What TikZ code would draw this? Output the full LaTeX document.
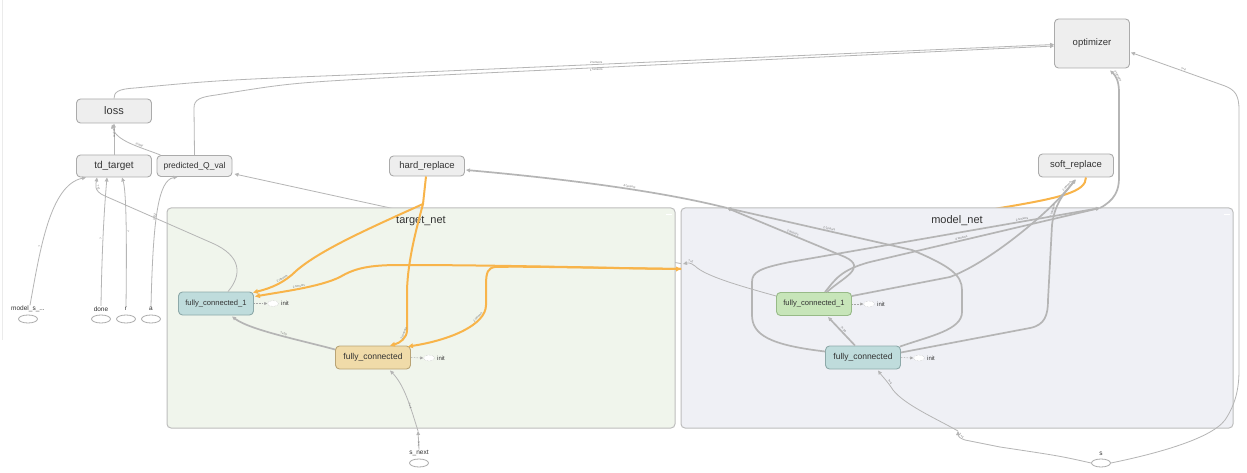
\documentclass[tikz,border=0pt]{standalone}
\usepackage{fontspec}
\setmainfont{Liberation Sans}
\usetikzlibrary{arrows.meta,shapes.geometric,calc}
\definecolor{edgec}{HTML}{B5B5B5}
\definecolor{opfill}{HTML}{EEEEEE}
\definecolor{opline}{HTML}{ABABAB}
\definecolor{reforange}{HTML}{F8B44A}
\definecolor{tnfill}{HTML}{F0F5EC}
\definecolor{mnfill}{HTML}{EFF0F5}
\definecolor{clline}{HTML}{BDBDBD}
\definecolor{tealfill}{HTML}{BFDCDC}
\definecolor{tealline}{HTML}{8DA9A9}
\definecolor{tanfill}{HTML}{F0DBA9}
\definecolor{tanline}{HTML}{B9A475}
\definecolor{greenfill}{HTML}{C7E5B9}
\definecolor{greenline}{HTML}{97BA87}
\definecolor{txt}{HTML}{333333}
\tikzset{
  opnode/.style={draw=opline, fill=opfill, rounded corners=4pt, line width=0.9pt,
    minimum width=75pt, minimum height=23pt, inner sep=0pt, text=txt},
  fcnode/.style={rounded corners=4pt, line width=0.9pt, minimum width=75pt,
    minimum height=23pt, inner sep=0pt, text=txt},
  cluster/.style={draw=clline, rounded corners=4pt, line width=1pt, inner sep=0pt},
  phnode/.style={ellipse, draw=opline, fill=white, line width=0.8pt,
    minimum width=19pt, minimum height=8pt, inner sep=0pt},
  phlabel/.style={font=\fontsize{6.5}{7}\selectfont, text=txt, inner sep=0.5pt},
  initnode/.style={ellipse, draw=black!22, densely dotted, fill=white,
    minimum width=11pt, minimum height=6pt, inner sep=0pt, line width=0.5pt},
  inittext/.style={font=\fontsize{6}{7}\selectfont, text=txt, inner sep=0pt, anchor=west},
  tip/.style={-{Triangle[length=4pt,width=3.6pt]}},
  thin edge/.style={draw=edgec, line width=0.8pt, tip},
  thick edge/.style={draw=edgec, line width=1.7pt, tip},
  refedge/.style={draw=reforange, line width=2pt, -{Triangle[length=5pt,width=4.6pt]}},
  refline/.style={draw=reforange, line width=2pt},
  elabel/.style={font=\fontsize{3}{3}\selectfont, text=black!55, sloped, inner sep=0.6pt},
  initedge/.style={draw=black!35, densely dotted, line width=0.6pt,
    -{Triangle[length=3pt,width=3pt]}},
  clustertitle/.style={font=\fontsize{11}{13}\selectfont, text=txt, inner sep=0pt},
}
\begin{document}
\begin{tikzpicture}[x=1pt,y=-1pt]
\fill[white] (0,0) rectangle (1247,473);
\useasboundingbox (0,0) rectangle (1247,473);
\draw[black!8, line width=1pt] (2.5,0) -- (2.5,340);

% ---------- top-level operations ----------
\node[opnode, minimum height=49pt, font=\fontsize{9.5}{11}\selectfont] (opt) at (1092,43.5) {optimizer};
\node[opnode, minimum height=24pt, font=\fontsize{11}{13}\selectfont] (loss) at (114,111) {loss};
\node[opnode, minimum height=22pt, font=\fontsize{10}{12}\selectfont] (tdt) at (114,166) {td\_target};
\node[opnode, minimum height=21pt, font=\fontsize{8.5}{10}\selectfont] (pq) at (194.5,166) {predicted\_Q\_val};
\node[opnode, minimum height=20pt, font=\fontsize{9.5}{11}\selectfont] (hr) at (427,166) {hard\_replace};
\node[opnode, minimum height=23pt, font=\fontsize{9.5}{11}\selectfont] (sr) at (1076,165.5) {soft\_replace};

% ---------- placeholders ----------
\node[phnode] (msph) at (28,319) {};
\node[phlabel] (mslab) at (28,309) {model\_s\_...};
\node[phnode] (doneph) at (101,319) {};
\node[phlabel] (donelab) at (101,309) {done};
\node[phnode] (rph) at (126,319) {};
\node[phlabel] (rlab) at (126,309) {r};
\node[phnode] (aph) at (151,319) {};
\node[phlabel] (alab) at (151,309) {a};
\node[phnode] (snph) at (419,463) {};
\node[phlabel] (snlab) at (419,453) {s\_next};
\node[phnode] (sph) at (1101,463) {};
\node[phlabel] (slab) at (1101,454) {s};

% ---------- edges running behind the clusters ----------
\coordinate (mpq) at (683,264);
\draw[thin edge] (mpq) -- (395,209) -- ($(pq.south east)+(2,-3)$);
\draw[refline] ($(sr.south)+(10,0)$) .. controls (1086,192) and (1060,198) .. (1000,208) -- (690,269);

% ---------- clusters ----------
\node[cluster, fill=tnfill, minimum width=508pt, minimum height=220pt] (tnet) at (421,318) {};
\node[cluster, fill=mnfill, minimum width=552pt, minimum height=220pt] (mnet) at (957,318) {};
\node[clustertitle] (tnettitle) at (421,221) {target\_net};
\node[clustertitle] (mnettitle) at (957,221) {model\_net};
\draw[white, line width=0.9pt] ($(tnet.north east)+(-10,7)$) -- ($(tnet.north east)+(-4,7)$);
\draw[white, line width=0.9pt] ($(mnet.north east)+(-10,7)$) -- ($(mnet.north east)+(-4,7)$);

% ---------- nodes inside the clusters ----------
\node[fcnode, draw=tealline, fill=tealfill, font=\fontsize{7.6}{9}\selectfont] (tfc1) at (216,303.5) {fully\_connected\_1};
\node[fcnode, draw=tanline, fill=tanfill, font=\fontsize{8.5}{10}\selectfont] (tfc) at (373,357.5) {fully\_connected};
\node[fcnode, draw=greenline, fill=greenfill, font=\fontsize{7.6}{9}\selectfont] (mfc1) at (814,304) {fully\_connected\_1};
\node[fcnode, draw=tealline, fill=tealfill, font=\fontsize{8.5}{10}\selectfont] (mfc) at (863,357.5) {fully\_connected};

% init companions
\node[initnode] (tfc1i) at (273,303.5) {};
\node[inittext] (tfc1it) at (281,303.5) {init};
\node[initnode] (tfci) at (429,358) {};
\node[inittext] (tfcit) at (437,358) {init};
\node[initnode] (mfc1i) at (869,304) {};
\node[inittext] (mfc1it) at (877,304) {init};
\node[initnode] (mfci) at (919,358) {};
\node[inittext] (mfcit) at (927,358) {init};
\draw[initedge] (tfc1.east) -- (tfc1i.west);
\draw[initedge] (tfc.east) -- (tfci.west);
\draw[initedge] (mfc1.east) -- (mfc1i.west);
\draw[initedge] (mfc.east) -- (mfci.west);

% ---------- loss / optimizer ----------
\draw[thin edge] (loss.north) .. controls (114,92) and (118,89) .. (135,88)
  .. controls (220,80) .. (400,73) -- ($(opt.west)+(0,1)$)
  node[elabel, pos=0.3, above] {2 tensors};
\draw[thin edge] (pq.north) -- (194,108) .. controls (194,99) and (201,97) .. (216,95)
  .. controls (290,83) .. (400,77) -- ($(opt.west)+(0,2.5)$)
  node[elabel, pos=0.3, below] {1 tensors};
\draw[thin edge] (tdt.north) -- (loss.south) node[elabel, midway, right] {scalar};
\draw[thin edge] ($(pq.north west)+(4,0)$) .. controls (140,147) and (116,141) .. ($(loss.south)+(-2,1)$)
  node[elabel, pos=0.35, above] {scalar};

% ---------- inputs of td_target and predicted_Q_val ----------
\draw[thin edge] ($(mslab.north)+(2,0)$) .. controls (40,250) and (50,185) .. ($(tdt.south)+(-28,0)$)
  node[elabel, pos=0.35, above] {?};
\draw[thin edge] (donelab.north) .. controls (102,240) and (105,200) .. ($(tdt.south)+(-7,0)$)
  node[elabel, pos=0.4, above] {?};
\draw[thin edge] (rlab.north) .. controls (127,230) and (126,190) .. ($(tdt.south)+(8,0)$)
  node[elabel, pos=0.4, above] {?};
\draw[thin edge] (alab.north) .. controls (153,220) and (158,180) .. ($(pq.south)+(-17,0)$)
  node[elabel, pos=0.45, above] {int32};
\draw[thin edge] ($(tfc1.north)+(12,0)$) .. controls (242,275) and (242,256) .. (212,243)
  -- (105,196) .. controls (93,191) and (96,184) .. ($(tdt.south)+(-17,0)$)
  node[elabel, pos=0.45, above] {?×2};

% model fc_1 towards predicted_Q_val
\draw[thin edge] ($(mfc1.west)+(0,-8)$) .. controls (740,286) and (705,276) .. (695,266)
  .. controls (690,262) and (687,263) .. (mpq)
  node[elabel, pos=0.35, above] {?×2};

% ---------- hard_replace ----------
\coordinate (hrin) at (727,208);
\draw[thick edge] (hrin) .. controls (680,196) and (600,182) .. ($(hr.east)+(1,4)$)
  node[elabel, pos=0.5, above] {4 tensors};
\draw[thick edge] ($(mfc1.north)+(13,0)$) .. controls (842,278) and (868,268) .. (845,257)
  -- (hrin) node[elabel, pos=0.45, above] {2 tensors};
\draw[thick edge] ($(mfc.north east)+(-1,1)$) .. controls (930,336) and (962,330) .. (962,312)
  -- (962,290) .. controls (962,275) and (950,266) .. (912,250) -- (hrin)
  node[elabel, pos=0.45, above] {2 tensors};

% ---------- soft_replace ----------
\draw[thick edge] ($(mfc1.east)+(0,-8)$) -- (950,277) .. controls (990,262) and (1045,215) .. (1065,192)
  -- ($(sr.south)+(0,2)$) node[elabel, pos=0.35, above] {2 tensors};
\draw[thick edge] ($(mfc.east)+(0,-5)$) -- (1030,328) .. controls (1045,325) and (1048,315) .. (1048,300)
  -- (1052,225) .. controls (1055,200) and (1068,190) .. ($(sr.south)+(-1,2)$)
  node[elabel, pos=0.2, above] {2 tensors};

% ---------- optimizer inputs ----------
\coordinate (optin) at (1100,208);
\draw[thick edge] (optin) .. controls (1115,200) and (1119,190) .. (1119,178) -- (1119,92)
  .. controls (1119,80) and (1115,75) .. ($(opt.south)+(18,2)$)
  node[elabel, pos=0.55, above] {4 tensors};
\draw[thick edge] ($(mfc.west)+(0,-6)$) .. controls (770,345) and (752,335) .. (752,315)
  -- (752,282) .. controls (752,272) and (760,268) .. (790,262) -- (optin)
  node[elabel, pos=0.75, above] {2 tensors};
\draw[thick edge] ($(mfc1.north)+(11,0)$) .. controls (835,280) and (840,270) .. (870,262) -- (optin)
  node[elabel, pos=0.4, above] {4 tensors};

% ---------- state inputs ----------
\coordinate (sin) at (958,431);
\draw[thin edge] (sph.west) .. controls (1060,456) .. (1000,447) -- (965,440)
  .. controls (959,438) and (958,436) .. (sin) node[elabel, pos=0.4, above] {?×4};
\draw[thin edge] (sin) .. controls (935,418) and (905,405) .. (893,390)
  .. controls (888,382) and (882,376) .. ($(mfc.south)+(15,1)$)
  node[elabel, pos=0.3, above] {?×4};
\draw[thin edge] (sph.east) .. controls (1150,455) and (1210,440) .. (1225,420)
  .. controls (1235,405) and (1239,390) .. (1239,370) -- (1239,110)
  .. controls (1239,95) and (1235,90) .. (1225,86) -- ($(opt.east)+(1,9)$)
  node[elabel, pos=0.45, above] {?×4};
\coordinate (snin) at (418,431);
\draw[thin edge] (snlab.north) -- (snin) node[elabel, midway, right] {?×4};
\draw[thin edge] (snin) .. controls (410,405) and (404,385) .. ($(tfc.south)+(17,1)$)
  node[elabel, pos=0.4, right] {?×4};

% ---------- within the clusters ----------
\draw[thick edge] ($(tfc.west)+(0,-8)$) .. controls (300,340) and (250,330) .. ($(tfc1.south)+(16,1)$)
  node[elabel, pos=0.45, above] {?×20};
\draw[thick edge] ($(mfc.north)+(-8,0)$) -- ($(mfc1.south)+(14,1)$)
  node[elabel, midway, above] {?×20};

% ---------- reference edges (orange) ----------
\coordinate (hrref) at (423,204);
\draw[refline] ($(hr.south)+(-1,0)$) -- (hrref);
\draw[refedge] (hrref) .. controls (370,228) and (320,250) .. (296,271)
  .. controls (285,282) and (272,288) .. ($(tfc1.north east)+(-1,1)$)
  node[elabel, pos=0.35, above] {2 tensors};
\draw[refedge] (hrref) .. controls (416,230) and (408,260) .. (407,290) -- (407,330)
  .. controls (407,338) and (400,343) .. ($(tfc.north)+(17,0)$)
  node[elabel, pos=0.2, above] {2 tensors};
\coordinate (srref) at (681,269);
\draw[refedge] (676,269) -- (srref);
\draw[refedge] (srref) .. controls (600,268) and (500,265) .. (400,265)
  .. controls (370,265) and (355,268) .. (340,277)
  .. controls (320,287) and (280,292) .. ($(tfc1.east)+(1,-7)$)
  node[elabel, pos=0.5, above] {2 tensors};
\draw[refedge] (srref) .. controls (600,268) and (520,266) .. (495,267)
  .. controls (488,268) and (486,272) .. (486,285) -- (486,305)
  .. controls (486,325) and (450,340) .. ($(tfc.north east)+(-3,1)$)
  node[elabel, pos=0.25, above] {2 tensors};
\end{tikzpicture}
\end{document}
